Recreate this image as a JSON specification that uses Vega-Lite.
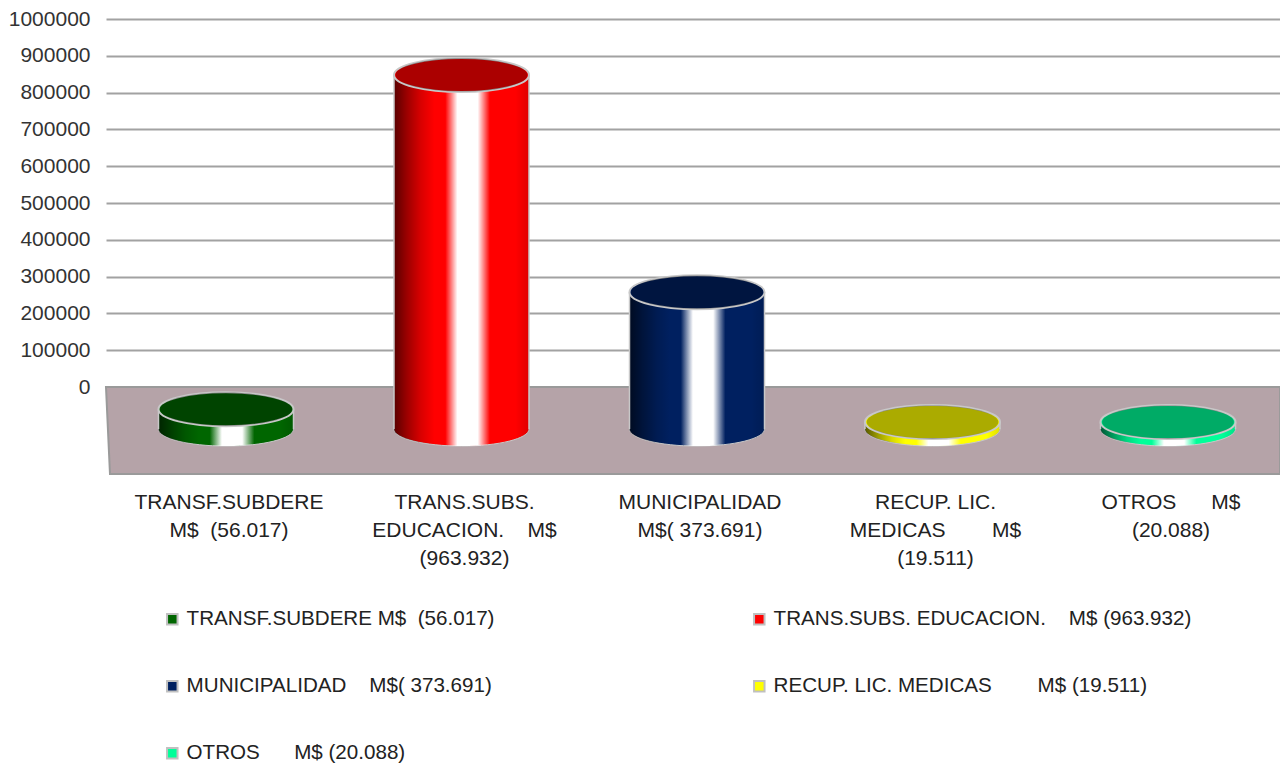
{
"$schema":"https://vega.github.io/schema/vega-lite/v6.json",
"autosize":"none",
"width":1174,"height":455,
"padding":{"left":106,"top":19,"right":0,"bottom":295},
"background":"white",
"config":{"view":{"stroke":null},"font":"Liberation Sans",
"legend":{"orient":"none","legendX":56,"legendY":590,"direction":"horizontal","columns":2,"columnPadding":254,"rowPadding":46,"symbolType":"square","symbolSize":110,"symbolStrokeColor":"#c0c0c0","symbolStrokeWidth":2,"symbolOpacity":1,"labelFontSize":20.6,"labelColor":"#222222","labelFont":"Liberation Sans","labelLimit":600,"labelOffset":4}},
"datasets":{
"filas":[
{"categoria":"TRANSF.SUBDERE|M$\u00a0\u00a0(56.017)","leyenda":"TRANSF.SUBDERE M$\u00a0\u00a0(56.017)","cima":-60000,"base":-114000},
{"categoria":"TRANS.SUBS.|EDUCACION.\u00a0\u00a0\u00a0\u00a0M$|(963.932)","leyenda":"TRANS.SUBS. EDUCACION.\u00a0\u00a0\u00a0\u00a0M$ (963.932)","cima":848000,"base":-114000},
{"categoria":"MUNICIPALIDAD|M$( 373.691)","leyenda":"MUNICIPALIDAD\u00a0\u00a0\u00a0\u00a0M$( 373.691)","cima":258000,"base":-114000},
{"categoria":"RECUP. LIC.|MEDICAS\u00a0\u00a0\u00a0\u00a0\u00a0\u00a0\u00a0\u00a0M$|(19.511)","leyenda":"RECUP. LIC. MEDICAS\u00a0\u00a0\u00a0\u00a0\u00a0\u00a0\u00a0\u00a0M$ (19.511)","cima":-95000,"base":-114000},
{"categoria":"OTROS\u00a0\u00a0\u00a0\u00a0\u00a0\u00a0M$|(20.088)","leyenda":"OTROS\u00a0\u00a0\u00a0\u00a0\u00a0\u00a0M$ (20.088)","cima":-95000,"base":-114000}
],
"suelo":[
{"nivel":0,"izq":0,"der":1174},
{"nivel":-236000,"izq":4,"der":1174}
]
},
"resolve":{"scale":{"x":"independent","y":"shared"},"axis":{"x":"independent","y":"shared"}},
"layer":[
{
"data":{"name":"suelo"},
"mark":{"type":"area","orient":"horizontal","color":"#b5a3a8","stroke":"#9a9a9a","strokeWidth":2},
"encoding":{
"y":{"field":"nivel","type":"quantitative","title":null,"scale":{"domain":[-236000,1000000],"nice":false,"zero":false},
"axis":{"values":[0,100000,200000,300000,400000,500000,600000,700000,800000,900000,1000000],"grid":true,"gridColor":"#a2a2a2","gridWidth":2,"domain":false,"ticks":false,"labelFontSize":21,"labelColor":"#333333","labelPadding":16,"labelFont":"Liberation Sans","format":"d"}},
"x":{"field":"izq","type":"quantitative","axis":null,"scale":{"domain":[0,1174],"nice":false,"zero":false}},
"x2":{"field":"der"}
}
},
{
"data":{"name":"filas"},
"encoding":{
"x":{"field":"categoria","type":"nominal","sort":null,"title":null,
"scale":{"type":"band","range":[2.25,1179.75],"paddingInner":0,"paddingOuter":0},
"axis":{"orient":"bottom","domain":false,"ticks":false,"labelAngle":0,"labelFontSize":21,"labelColor":"#222222","labelFont":"Liberation Sans","labelLimit":400,"labelPadding":17,"labelLineHeight":28,"labelOffset":3,"labelExpr":"split(datum.value,'|')"}}
},
"layer":[
{"mark":{"type":"point","filled":true,"opacity":1,"stroke":"#c8c8c8","strokeWidth":1,"shape":"M-1,0 A1,0.252 0 1,1 1,0 A1,0.252 0 1,1 -1,0 Z","size":18225},
"encoding":{"y":{"field":"base","type":"quantitative","title":null},"color":{"field":"leyenda","type":"nominal","sort":null,"title":null,"scale":{"range":["#006600","#ff0000","#002060","#ffff00","#00ff99"]}}}},
{"mark":{"type":"point","filled":true,"opacity":1,"strokeWidth":0,"color":{"gradient":"linear","x1":0,"x2":1,"y1":0,"y2":0,"stops":[{"offset":0,"color":"rgba(0,0,0,0.65)"},{"offset":0.1,"color":"rgba(0,0,0,0.38)"},{"offset":0.2,"color":"rgba(0,0,0,0.15)"},{"offset":0.3,"color":"rgba(0,0,0,0)"},{"offset":0.3,"color":"rgba(255,255,255,0)"},{"offset":0.38,"color":"rgba(255,255,255,0)"},{"offset":0.47,"color":"rgba(255,255,255,1)"},{"offset":0.62,"color":"rgba(255,255,255,1)"},{"offset":0.71,"color":"rgba(255,255,255,0)"},{"offset":0.9,"color":"rgba(255,255,255,0)"},{"offset":0.9,"color":"rgba(0,0,0,0)"},{"offset":1,"color":"rgba(0,0,0,0.12)"}]},"shape":"M-1,0 A1,0.252 0 1,1 1,0 A1,0.252 0 1,1 -1,0 Z","size":18225},
"encoding":{"y":{"field":"base","type":"quantitative","title":null}}},
{"mark":{"type":"bar","width":135},
"encoding":{"y":{"field":"base","type":"quantitative","title":null},"y2":{"field":"cima"},"color":{"field":"leyenda","type":"nominal","sort":null,"title":null,"scale":{"range":["#006600","#ff0000","#002060","#ffff00","#00ff99"]}}}},
{"mark":{"type":"bar","width":135,"color":{"gradient":"linear","x1":0,"x2":1,"y1":0,"y2":0,"stops":[{"offset":0,"color":"rgba(0,0,0,0.65)"},{"offset":0.1,"color":"rgba(0,0,0,0.38)"},{"offset":0.2,"color":"rgba(0,0,0,0.15)"},{"offset":0.3,"color":"rgba(0,0,0,0)"},{"offset":0.3,"color":"rgba(255,255,255,0)"},{"offset":0.38,"color":"rgba(255,255,255,0)"},{"offset":0.47,"color":"rgba(255,255,255,1)"},{"offset":0.62,"color":"rgba(255,255,255,1)"},{"offset":0.71,"color":"rgba(255,255,255,0)"},{"offset":0.9,"color":"rgba(255,255,255,0)"},{"offset":0.9,"color":"rgba(0,0,0,0)"},{"offset":1,"color":"rgba(0,0,0,0.12)"}]}},
"encoding":{"y":{"field":"base","type":"quantitative","title":null},"y2":{"field":"cima"}}},
{"mark":{"type":"rule","xOffset":-67.5,"color":"#c8c8c8","strokeWidth":1.5},
"encoding":{"y":{"field":"base","type":"quantitative","title":null},"y2":{"field":"cima"}}},
{"mark":{"type":"rule","xOffset":67.5,"color":"#c8c8c8","strokeWidth":1.5},
"encoding":{"y":{"field":"base","type":"quantitative","title":null},"y2":{"field":"cima"}}},
{"mark":{"type":"point","filled":true,"opacity":1,"stroke":"#c8c8c8","strokeWidth":2,"shape":"M-1,0 A1,0.252 0 1,1 1,0 A1,0.252 0 1,1 -1,0 Z","size":18225},
"encoding":{"y":{"field":"cima","type":"quantitative","title":null},"color":{"field":"leyenda","type":"nominal","sort":null,"title":null,"scale":{"range":["#006600","#ff0000","#002060","#ffff00","#00ff99"]}}}},
{"mark":{"type":"point","filled":true,"opacity":0.33,"color":"#000000","strokeWidth":0,"shape":"M-1,0 A1,0.252 0 1,1 1,0 A1,0.252 0 1,1 -1,0 Z","size":17400},
"encoding":{"y":{"field":"cima","type":"quantitative","title":null}}}
]
}
]
}
